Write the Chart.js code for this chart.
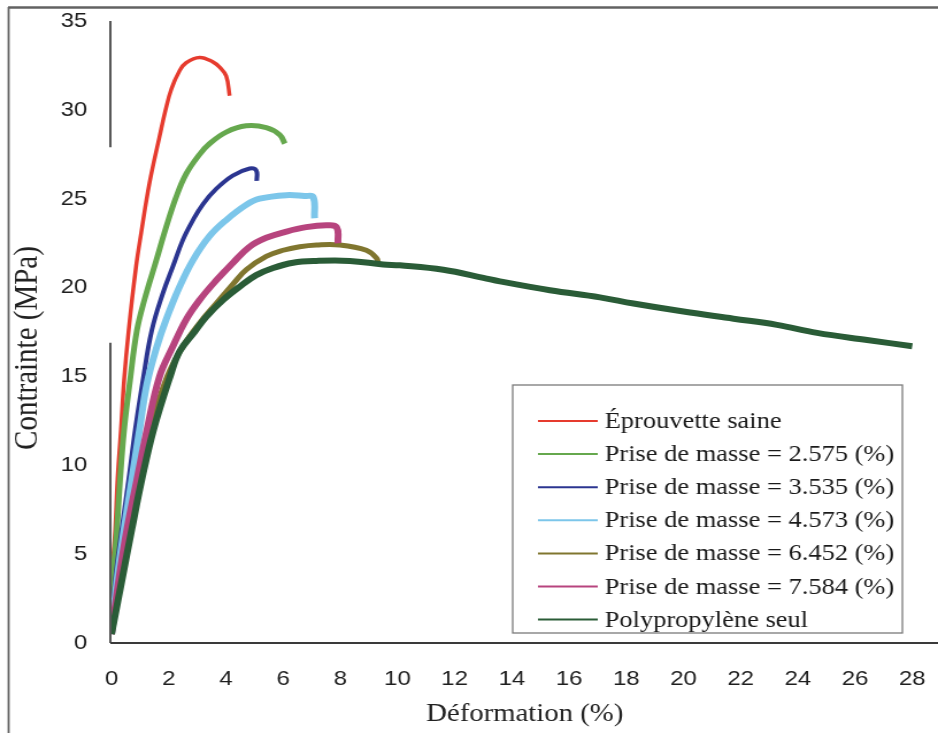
<!DOCTYPE html>
<html lang="fr">
<head>
<meta charset="utf-8">
<title>Contrainte - Déformation</title>
<script src="https://cdn.jsdelivr.net/npm/chart.js@4.4.1/dist/chart.umd.min.js"></script>
<style>
  html, body { margin: 0; padding: 0; background: #fff; }
  #traction { display: block; }
</style>
</head>
<body>
<!-- drawn at 816 px wide, shown at 938 px -->
<canvas id="traction" width="816" height="733" style="width:938px;height:733px"></canvas>
<script>
// Déformation (%) / Contrainte (MPa) for each specimen
const saineX = [0, 0.01, 0.13, 0.21, 0.33, 0.44, 0.6, 0.86, 1.04, 1.33, 1.68, 1.89, 2.1, 2.38, 2.61, 3.08, 3.54, 3.78, 4.01, 4.13];
const saineY = [0.5, 3.5, 6.4, 9.2, 12.0, 14.8, 17.6, 21.2, 23.1, 25.9, 28.5, 30.0, 31.2, 32.2, 32.65, 32.95, 32.7, 32.4, 31.9, 30.8];

const m2575X = [0, 0.05, 0.19, 0.3, 0.44, 0.65, 0.89, 1.15, 1.56, 1.91, 2.26, 2.61, 3.08, 3.43, 4.01, 4.71, 5.41, 5.88, 6.06];
const m2575Y = [0.5, 3.5, 6.4, 9.2, 12.0, 14.8, 17.6, 19.3, 21.5, 23.4, 25.1, 26.4, 27.5, 28.1, 28.75, 29.1, 29.0, 28.6, 28.1];

const m3535X = [0, 0.13, 0.36, 0.6, 0.83, 1.1, 1.41, 1.8, 2.15, 2.5, 2.85, 3.2, 3.66, 4.24, 4.83, 5.06, 5.08];
const m3535Y = [0.5, 3.5, 6.4, 9.2, 12.0, 14.8, 17.6, 19.7, 21.2, 22.7, 23.8, 24.7, 25.55, 26.3, 26.7, 26.6, 26.0];

const m4573X = [0, 0.19, 0.44, 0.71, 0.98, 1.24, 1.59, 1.91, 2.38, 2.85, 3.43, 4.01, 4.71, 5.18, 6.11, 6.75, 7.05, 7.1];
const m4573Y = [0.5, 3.5, 6.4, 9.2, 12.0, 14.6, 16.7, 18.2, 20.05, 21.55, 22.9, 23.8, 24.65, 25.0, 25.2, 25.15, 25.1, 23.9];

const m6452X = [0, 0.3, 0.63, 1.0, 1.35, 1.95, 2.5, 3.08, 3.66, 4.25, 4.71, 5.41, 6.0, 6.58, 7.17, 7.98, 8.91, 9.27, 9.32];
const m6452Y = [0.5, 3.5, 6.4, 9.2, 12.0, 15.0, 16.7, 18.0, 19.1, 20.2, 21.0, 21.75, 22.1, 22.3, 22.4, 22.4, 22.1, 21.65, 21.4];

const m7584X = [0, 0.25, 0.54, 0.89, 1.24, 1.68, 2.15, 2.61, 3.08, 3.66, 4.25, 4.83, 5.41, 6.11, 6.81, 7.51, 7.87, 7.92];
const m7584Y = [0.5, 3.5, 6.4, 9.2, 12.0, 15.0, 16.7, 18.2, 19.3, 20.4, 21.4, 22.3, 22.8, 23.15, 23.4, 23.5, 23.4, 22.5];

const ppX = [0, 0.36, 0.71, 1.06, 1.47, 2.05, 2.38, 2.9, 3.31, 3.9, 4.48, 5.06, 5.65, 6.35, 7.16, 8.33, 9.5, 10.08, 11.6, 13.0, 13.58, 15.33, 17.08, 18.25, 20.0, 21.75, 23.27, 24.67, 26.42, 28.0];
const ppY = [0.5, 3.5, 6.4, 9.2, 12.0, 15.0, 16.4, 17.5, 18.35, 19.3, 20.05, 20.7, 21.1, 21.4, 21.5, 21.5, 21.3, 21.25, 21.0, 20.55, 20.35, 19.85, 19.45, 19.1, 18.65, 18.25, 17.9, 17.45, 17.05, 16.7];

const labels = [
    "Éprouvette saine",
    "Prise de masse = 2.575 (%)",
    "Prise de masse = 3.535 (%)",
    "Prise de masse = 4.573 (%)",
    "Prise de masse = 6.452 (%)",
    "Prise de masse = 7.584 (%)",
    "Polypropylène seul"
];
const colors = ["#e63b2e", "#66a84e", "#2b3590", "#7cc6ea", "#80762f", "#b7447e", "#2a5c37"];
const widths = [3.5, 5, 4, 6, 5, 6, 6];
const series = [
    [saineX, saineY], [m2575X, m2575Y], [m3535X, m3535Y], [m4573X, m4573Y],
    [m6452X, m6452Y], [m7584X, m7584Y], [ppX, ppY]
];

// the vertical axis line is only printed over these stress ranges
const axeYSpans = [[27.9, 35], [0, 16.9]];

const sans = "'Liberation Sans', Arial, sans-serif";
const serif = "'Liberation Serif', 'Times New Roman', serif";

const cadre = {
    id: "cadre",
    beforeDraw(chart) {
        const {ctx, chartArea: a} = chart;
        const y = chart.scales.y;
        ctx.save();
        // outer frame (top and left)
        ctx.strokeStyle = "#626262";
        ctx.lineWidth = 2.5;
        ctx.beginPath(); ctx.moveTo(7, 7.5); ctx.lineTo(chart.width, 7.5); ctx.stroke();
        ctx.lineWidth = 1.8;
        ctx.beginPath(); ctx.moveTo(7.5, 7); ctx.lineTo(7.5, chart.height); ctx.stroke();

        // axes
        ctx.strokeStyle = "#3a3a3a";
        ctx.lineWidth = 2;
        ctx.beginPath(); ctx.moveTo(a.left - 1, a.bottom); ctx.lineTo(chart.width, a.bottom); ctx.stroke();
        ctx.lineWidth = 1.7;
        axeYSpans.forEach(([lo, hi]) => {
            ctx.beginPath();
            ctx.moveTo(a.left - 1, y.getPixelForValue(hi));
            ctx.lineTo(a.left - 1, y.getPixelForValue(lo));
            ctx.stroke();
        });

        // y axis title
        ctx.translate(24, 348);
        ctx.rotate(-Math.PI / 2);
        ctx.fillStyle = "#222";
        ctx.font = `29px ${serif}`;
        ctx.textAlign = "center";
        ctx.textBaseline = "middle";
        ctx.fillText("Contrainte (MPa)", 0, 0);
        ctx.restore();
    }
};

const legende = {
    id: "legende",
    afterDatasetsDraw(chart) {
        const {ctx} = chart;
        ctx.save();
        ctx.fillStyle = "#fff";
        ctx.fillRect(446, 385, 339, 248);
        ctx.strokeStyle = "#7a7a7a";
        ctx.lineWidth = 1.3;
        ctx.strokeRect(446, 385, 339, 248);
        ctx.font = `23px ${serif}`;
        ctx.textBaseline = "middle";
        chart.data.datasets.forEach((ds, i) => {
            const yy = 421 + i * 33.1;
            ctx.strokeStyle = ds.borderColor;
            ctx.lineWidth = 2;
            ctx.beginPath(); ctx.moveTo(468, yy); ctx.lineTo(520, yy); ctx.stroke();
            ctx.fillStyle = "#1a1a1a";
            ctx.fillText(ds.label, 526, yy + 1);
        });
        ctx.restore();
    }
};

const ctx = document.getElementById("traction").getContext("2d");

new Chart(ctx, {
    type: "line",
    data: {
        datasets: series.map(([xs, ys], i) => ({
            label: labels[i],
            data: xs.map((x, k) => ({x, y: ys[k]})),
            borderColor: colors[i],
            borderWidth: widths[i],
            pointRadius: 0,
            fill: false,
            tension: 0.4,
            order: series.length - 1 - i
        }))
    },
    options: {
        responsive: false,
        animation: false,
        devicePixelRatio: 1,
        layout: { padding: { top: 21, right: 0, bottom: 0, left: 0 } },
        plugins: {
            legend: { display: false },
            tooltip: { enabled: false }
        },
        scales: {
            x: {
                type: "linear",
                min: 0,
                max: 28.9,
                grid: { display: false, drawTicks: false },
                border: { display: false },
                ticks: {
                    stepSize: 2,
                    includeBounds: false,
                    maxRotation: 0,
                    padding: 24,
                    color: "#1e1e1e",
                    font: { family: sans, size: 21 }
                },
                title: {
                    display: true,
                    text: "Déformation (%)",
                    color: "#222",
                    font: { family: serif, size: 25 },
                    padding: { top: 0, bottom: 4 }
                },
                afterFit: s => {
                    s.height = 90;
                    s.paddingLeft = 0;
                    s.paddingRight = 0;
                }
            },
            y: {
                min: 0,
                max: 35,
                grid: { display: false, drawTicks: false },
                border: { display: false },
                ticks: {
                    stepSize: 5,
                    padding: 21,
                    color: "#1e1e1e",
                    font: { family: sans, size: 21 }
                },
                afterFit: s => {
                    s.width = 97;
                    s.paddingTop = 0;
                    s.paddingBottom = 0;
                }
            }
        }
    },
    plugins: [cadre, legende]
});
</script>
</body>
</html>
